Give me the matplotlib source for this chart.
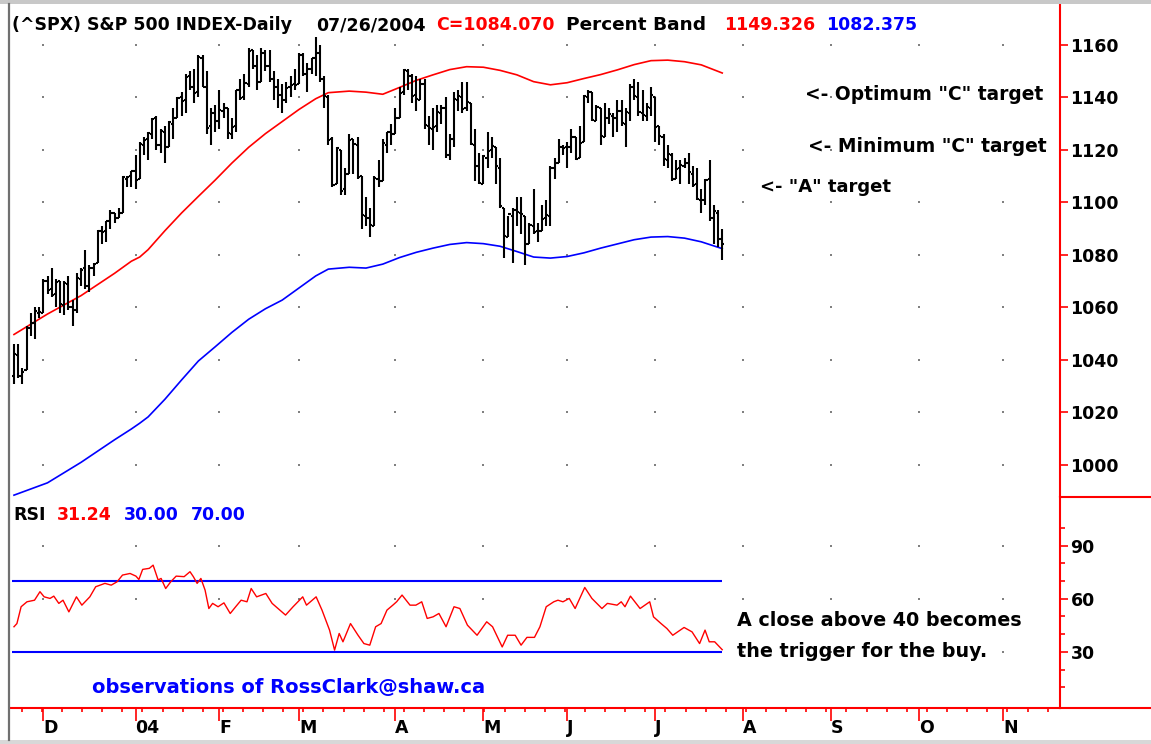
import numpy as np
import matplotlib
matplotlib.use("Agg")
import matplotlib.pyplot as plt
from matplotlib.lines import Line2D
from matplotlib.patches import Rectangle

W, H = 1151, 744

# daily bars 11/19/2003 .. 07/26/2004 (trading-day index = position)
opens = [1034, 1042, 1034, 1036, 1052, 1054, 1058,
         1058, 1070, 1067, 1065, 1070, 1061, 1069, 1060, 1059, 1071, 1075, 1068, 1075, 1077, 1089, 1089, 1093, 1096, 1094, 1096, 1109, 1110,
         1112, 1109, 1122, 1124, 1126, 1132, 1122, 1127, 1121, 1130, 1132, 1140, 1139, 1148, 1144, 1142, 1155, 1144, 1129, 1134,
         1131, 1135, 1136, 1126, 1129, 1143, 1140, 1145, 1158, 1152, 1146, 1157, 1152, 1147, 1144, 1141, 1139, 1144, 1145,
         1145, 1156, 1149, 1151, 1155, 1157, 1147, 1140, 1124, 1107, 1120, 1105, 1111, 1124, 1122, 1110, 1095, 1094, 1091, 1109, 1108, 1122, 1127,
         1126, 1132, 1142, 1150, 1148, 1141, 1139, 1145, 1129, 1128, 1129, 1134, 1136, 1118, 1124, 1139, 1140, 1136, 1138, 1122, 1114,
         1107, 1117, 1120, 1121, 1113, 1098, 1087, 1095, 1097, 1096, 1095, 1084, 1091, 1089, 1089, 1094, 1095, 1113, 1115, 1121,
         1121, 1121, 1125, 1117, 1123, 1140, 1142, 1131, 1136, 1125, 1132, 1133, 1132, 1135, 1130, 1134, 1144, 1140, 1134, 1133, 1136,
         1140, 1129, 1125, 1116, 1118, 1109, 1113, 1114, 1115, 1111, 1107, 1101, 1101, 1109, 1094, 1096, 1086]
highs = [1046, 1046, 1037, 1053, 1058, 1060, 1060,
         1071, 1072, 1075, 1071, 1070, 1070, 1072, 1063, 1073, 1075, 1082, 1076, 1077, 1089.5, 1091, 1093, 1097, 1096, 1098, 1110, 1110, 1112,
         1118, 1123, 1125, 1127, 1132, 1133, 1128, 1129, 1131, 1136, 1140, 1142, 1149, 1150, 1151, 1156, 1156, 1150, 1136, 1137,
         1143, 1138, 1136, 1132, 1143, 1147, 1149, 1159, 1158, 1156, 1159, 1158, 1158, 1150, 1147, 1145, 1146, 1148, 1151,
         1157, 1157, 1153, 1155, 1163, 1160, 1148, 1141, 1125, 1121, 1120, 1113, 1126, 1124, 1125, 1110, 1102, 1098, 1110, 1116, 1124, 1127, 1130,
         1136, 1144, 1151, 1151, 1149, 1148, 1147, 1147, 1133, 1136, 1137, 1137, 1140, 1126, 1142, 1143, 1146, 1146, 1138, 1128, 1119,
         1118, 1127, 1125, 1121, 1117, 1098, 1095, 1098, 1102, 1102, 1095, 1092, 1105, 1092, 1099, 1101, 1114, 1117, 1124, 1122,
         1123, 1128, 1125, 1129, 1141, 1143, 1142, 1137, 1136, 1138, 1136, 1134, 1139, 1139, 1136, 1145, 1147, 1146, 1143, 1138, 1144,
         1140, 1129, 1126, 1122, 1119, 1116, 1116, 1117, 1119, 1114, 1113, 1105, 1109, 1116, 1099, 1097, 1090]
lows = [1031, 1033, 1031, 1036, 1049, 1048, 1056,
        1058, 1065, 1064, 1060, 1058, 1057, 1059, 1053, 1058, 1068, 1067, 1066, 1072, 1077, 1084, 1085, 1090, 1092, 1094, 1096, 1106, 1106,
        1105, 1109, 1118, 1116, 1124, 1120, 1119, 1115, 1121, 1124, 1132, 1133, 1134, 1143, 1138, 1140, 1144, 1126, 1122, 1127,
        1128, 1132, 1124, 1124, 1127, 1139, 1139, 1144, 1151, 1143, 1146, 1150, 1146, 1139, 1136, 1134, 1138, 1140, 1143,
        1145, 1148, 1142, 1149, 1148, 1146, 1136, 1122, 1106, 1107, 1103, 1103, 1111, 1111, 1109, 1090, 1091, 1087, 1091, 1106, 1108, 1119, 1122,
        1126, 1132, 1141, 1143, 1138, 1135, 1139, 1128, 1122, 1120, 1127, 1130, 1117, 1116, 1121, 1135, 1134, 1135, 1122, 1108, 1107,
        1107, 1113, 1117, 1107, 1098, 1079, 1087, 1077, 1091, 1088, 1076, 1084, 1088, 1085, 1089, 1091, 1091, 1109, 1115, 1118,
        1113, 1119, 1116, 1117, 1123, 1138, 1131, 1131, 1122, 1125, 1130, 1125, 1127, 1129, 1121, 1131, 1139, 1133, 1131, 1131, 1133,
        1123, 1122, 1114, 1113, 1108, 1109, 1107, 1113, 1107, 1106, 1101, 1096, 1099, 1093, 1084, 1083, 1078]
closes = [1042.4, 1033.7, 1035.3, 1052.1, 1053.9, 1058.5, 1058.2,
          1070.1, 1066.6, 1064.7, 1069.7, 1061.5, 1069.3, 1060.2, 1059.1, 1071.2, 1074.1, 1068.0, 1075.1, 1076.5, 1089.2, 1088.7, 1092.9, 1096.0, 1094.0, 1095.9, 1109.5, 1109.6, 1111.9,
          1108.5, 1122.2, 1123.7, 1126.3, 1131.9, 1121.9, 1127.2, 1121.2, 1130.5, 1132.1, 1139.8, 1138.8, 1147.6, 1143.9, 1141.6, 1155.4, 1144.1, 1128.5, 1134.1, 1131.1,
          1135.3, 1136.0, 1126.5, 1128.6, 1142.8, 1139.8, 1145.5, 1157.8, 1152.1, 1145.8, 1157.0, 1151.8, 1147.1, 1144.1, 1141.0, 1139.1, 1143.7, 1144.9, 1144.9,
          1156.0, 1149.1, 1151.0, 1154.9, 1156.9, 1147.2, 1140.6, 1123.9, 1106.8, 1120.6, 1104.5, 1110.7, 1123.8, 1122.3, 1109.8, 1095.4, 1094.0, 1091.3, 1109.2, 1108.1, 1122.5, 1127.0, 1126.2,
          1132.2, 1141.8, 1150.6, 1148.2, 1140.5, 1139.3, 1145.2, 1129.4, 1128.2, 1128.8, 1134.6, 1135.8, 1118.2, 1124.1, 1139.3, 1140.6, 1135.5, 1138.1, 1122.4, 1113.9, 1107.3,
          1117.5, 1119.6, 1121.5, 1114.0, 1098.7, 1087.1, 1095.5, 1097.3, 1096.4, 1095.7, 1084.1, 1091.5, 1088.7, 1089.2, 1093.6, 1095.4, 1113.1, 1114.9, 1121.3, 1120.7,
          1121.2, 1125.0, 1116.6, 1122.5, 1140.4, 1142.2, 1131.3, 1136.5, 1125.3, 1132.0, 1133.6, 1132.1, 1135.0, 1130.3, 1134.4, 1144.1, 1140.7, 1134.4, 1133.4, 1136.2, 1140.8,
          1128.9, 1125.4, 1116.4, 1118.3, 1109.1, 1112.8, 1114.4, 1115.0, 1111.5, 1106.7, 1101.4, 1100.9, 1108.7, 1093.9, 1096.8, 1086.2, 1084.07]

# percent band (read every few bars)
band_idx = [0, 8, 16, 24, 28, 30, 32, 36, 40, 44, 48, 52, 56, 60, 64, 68, 72, 75, 80, 84, 88, 92, 96, 100, 104, 108,
            112, 116, 120, 124, 128, 132, 136, 140, 144, 148, 152, 156, 160, 164, 169]
upper_band = [1049.7, 1057.5, 1064.5, 1073.0, 1077.6, 1079.2, 1082.0, 1089.2, 1096.0, 1102.3, 1108.5, 1115.0,
              1121.0, 1126.2, 1130.8, 1135.4, 1139.5, 1141.8,
              1142.4, 1142.0, 1141.2, 1143.8, 1146.5, 1148.6, 1150.6, 1151.7, 1151.5, 1150.3, 1148.6,
              1146.0, 1144.8, 1145.6, 1147.2, 1148.7, 1150.5, 1152.5, 1154.0, 1154.2, 1153.6, 1152.4, 1149.3]
lower_band = [988.5, 993.2, 1001.0, 1009.6, 1013.7, 1015.9, 1018.3, 1025.0, 1032.4, 1039.6, 1045.0, 1050.5,
              1055.5, 1059.5, 1062.8, 1067.4, 1072.0, 1074.6,
              1075.3, 1075.0, 1076.5, 1079.0, 1081.0, 1082.6, 1084.0, 1084.7, 1084.3, 1083.3, 1081.3,
              1079.2, 1078.8, 1079.4, 1080.8, 1082.6, 1084.2, 1085.8, 1086.8, 1087.0, 1086.4, 1085.0, 1082.4]

# RSI
rsi_idx = [0, 0.7, 1.7, 3.1, 4.9, 6.2, 7.2, 8.6, 9.5, 10.7, 11.7, 13.1, 14.9, 16.2, 18.1, 19.5,
           21.7, 23.2, 24.6, 25.9, 27.7, 29.1, 29.8, 30.7, 32.3, 33.2, 34.4, 35.1, 36.2, 37.4, 38.7,
           40.6, 42.0, 42.8, 43.7, 44.6, 45.6, 46.5, 47.4, 48.7, 50.1, 51.6, 52.9, 54.2, 55.6, 56.6,
           57.9, 60.1, 61.6, 64.8, 66.6, 68.9, 69.8, 72.1, 73.5, 75.3, 76.5, 77.6, 78.5, 80.3, 82.1,
           83.5, 84.9, 86.3, 87.6, 89.0, 90.4, 91.3, 92.6, 94.5, 95.9, 97.3, 98.6, 100.0, 101.4, 103.1,
           105.0, 106.4, 108.2, 110.5, 112.8, 114.2, 116.5, 117.8, 119.6, 121.0, 122.4, 124.2, 125.5,
           127.0, 128.8, 129.8, 131.0, 132.5, 133.9, 136.2, 137.9, 140.3, 141.6, 143.9, 144.9, 145.8,
           147.1, 149.4, 151.7, 152.6, 154.4, 155.8, 157.2, 159.9, 161.8, 163.6, 164.9, 165.9, 167.2, 169]
rsi_vals = [44.2, 46.0, 55.5, 58.3, 59.2, 64.0, 61.1, 60.2, 61.5, 57.4, 59.2, 52.6, 61.1, 56.4, 61.1, 66.8,
            68.7, 67.7, 69.6, 73.4, 74.3, 72.8, 70.9, 76.6, 77.2, 79.0, 70.6, 71.5, 65.8, 69.6, 72.8,
            72.5, 75.3, 72.5, 68.7, 71.5, 64.9, 54.5, 57.4, 55.5, 57.7, 51.7, 55.5, 59.2, 58.3, 65.8,
            61.1, 63.0, 57.4, 50.8, 55.5, 61.1, 56.4, 61.1, 53.6, 42.3, 31.0, 40.4, 35.7, 46.0, 39.4,
            34.7, 33.8, 44.2, 46.0, 53.6, 56.4, 58.3, 62.1, 56.4, 56.4, 58.3, 48.9, 49.8, 51.7, 44.2,
            55.5, 54.5, 45.1, 39.4, 47.0, 44.2, 32.8, 39.4, 39.4, 33.8, 38.2, 38.2, 44.2,
            55.5, 58.3, 59.2, 58.3, 60.2, 54.5, 66.4, 60.2, 54.5, 57.4, 56.4, 58.3, 55.5,
            61.5, 54.5, 58.3, 49.8, 46.0, 43.2, 39.4, 43.8, 41.3, 34.7, 42.3, 35.7, 35.7, 31.24]
rsi_levels = [30, 70]

month_pos = [7, 29, 49, 68, 91, 112, 132, 153, 174, 195, 216, 236]
month_labels = ['D', '04', 'F', 'M', 'A', 'M', 'J', 'J', 'A', 'S', 'O', 'N']
price_ticks = [1000, 1020, 1040, 1060, 1080, 1100, 1120, 1140, 1160]
rsi_ticks = [30, 60, 90]
rsi_minor = [10, 20, 40, 50, 70, 80, 100]

FONT = 'DejaVu Sans'
FS = 12.5


def fx(px):
    return px / W


def fy(py):
    return 1 - py / H


fig = plt.figure(figsize=(W / 100, H / 100), dpi=100)
fig.patch.set_facecolor('white')

# frame
fig.add_artist(Rectangle((0, fy(4)), 1, 4 / H, transform=fig.transFigure, color='#c8c8c8', lw=0))
fig.add_artist(Rectangle((0, 0), 1, 4 / H, transform=fig.transFigure, color='#d8d8d8', lw=0))
fig.add_artist(Line2D([fx(8.5), fx(8.5)], [fy(740), fy(4)], transform=fig.transFigure, color='#707070', lw=1.6))

ax = fig.add_axes([fx(10), fy(497), fx(1060) - fx(10), fy(5) - fy(497)])
ax2 = fig.add_axes([fx(10), fy(708), fx(1060) - fx(10), fy(497) - fy(708)])

idx = np.arange(len(closes))
xlim = (-0.95, 249.6)

for a in (ax, ax2):
    a.set_xlim(*xlim)
    for s in ('left', 'top', 'bottom'):
        a.spines[s].set_visible(False)
    a.spines['right'].set_color('red')
    a.spines['right'].set_linewidth(1.5)
    a.yaxis.tick_right()
    a.tick_params(axis='y', which='major', colors='red', labelcolor='black', length=6, width=1.2,
                  direction='out', pad=1.5, labelsize=FS)
    a.tick_params(axis='y', which='minor', colors='red', length=3.5, width=1.2, direction='out')

# grid dots
gx, gy = np.meshgrid(month_pos, price_ticks)
ax.plot(gx.ravel(), gy.ravel(), ls='none', marker='s', ms=1.5, mew=0, color='#808080', zorder=1)
gx2, gy2 = np.meshgrid(month_pos, rsi_ticks)
ax2.plot(gx2.ravel(), gy2.ravel(), ls='none', marker='s', ms=1.5, mew=0, color='#808080', zorder=1)

# price bars
ax.vlines(idx, lows, highs, color='black', lw=1.5, zorder=3)
ax.hlines(opens, idx - 0.5, idx, color='black', lw=1.5, zorder=3)
ax.hlines(closes, idx, idx + 0.5, color='black', lw=1.5, zorder=3)

# bands
ax.plot(band_idx, upper_band, color='#ff0000', lw=1.2, zorder=2)
ax.plot(band_idx, lower_band, color='#0000ff', lw=1.2, zorder=2)

ax.set_ylim(987.8, 1175.2)
ax.set_xticks([])
ax.set_yticks(price_ticks)
for lab in ax.get_yticklabels():
    lab.set_fontweight('bold')
    lab.set_fontfamily(FONT)

# RSI panel
ax2.hlines(rsi_levels, -0.5, 169, color='#0000ff', lw=1.5, zorder=2)
ax2.plot(rsi_idx, rsi_vals, color='#ff0000', lw=1.0, zorder=3)
ax2.set_ylim(-1.7, 117.5)
ax2.set_yticks(rsi_ticks)
ax2.set_yticks(rsi_minor, minor=True)
for lab in ax2.get_yticklabels():
    lab.set_fontweight('bold')
    lab.set_fontfamily(FONT)

ax2.spines['bottom'].set_visible(True)
ax2.spines['bottom'].set_color('red')
ax2.spines['bottom'].set_linewidth(1.5)
ax2.set_xticks(month_pos)
ax2.set_xticklabels(month_labels)
ax2.set_xticks(np.arange(1.85, 247, 4.8), minor=True)
ax2.tick_params(axis='x', which='major', colors='red', labelcolor='black', length=9, width=1.2,
                direction='out', pad=-1, labelsize=FS)
ax2.tick_params(axis='x', which='minor', colors='red', length=3, width=1.2, direction='out')
for lab in ax2.get_xticklabels():
    lab.set_fontweight('bold')
    lab.set_fontfamily(FONT)
    lab.set_horizontalalignment('left')

# red lines right of the plot
fig.add_artist(Line2D([fx(1060), 1], [fy(497), fy(497)], transform=fig.transFigure, color='red', lw=1.5))
fig.add_artist(Line2D([fx(1060), 1], [fy(708), fy(708)], transform=fig.transFigure, color='red', lw=1.5))


def txt(px, py, s, color='black', size=FS):
    fig.text(fx(px), fy(py), s, color=color, fontsize=size, fontweight='bold', fontfamily=FONT,
             ha='left', va='baseline')


# header
txt(12, 30, '(^SPX) S&P 500 INDEX-Daily')
txt(316, 30, '07/26/2004')
txt(436, 30, 'C=1084.070', color='#ff0000')
txt(566, 30, 'Percent Band', size=13.3)
txt(724, 30, '1149.326', color='#ff0000')
txt(826, 30, '1082.375', color='#0000ff')

# targets
txt(805, 100, '<- Optimum "C" target', size=13.4)
txt(808, 152, '<- Minimum "C" target', size=13.4)
txt(760, 192, '<- "A" target', size=13.0)

# RSI header
txt(13, 520, 'RSI')
txt(57, 520, '31.24', color='#ff0000')
txt(124, 520, '30.00', color='#0000ff')
txt(191, 520, '70.00', color='#0000ff')

txt(737, 626, 'A close above 40 becomes', size=13.8)
txt(737, 657, 'the trigger for the buy.', size=13.8)
txt(92, 693, 'observations of RossClark@shaw.ca', color='#0000ff', size=14.0)

fig.savefig('out.png', dpi=100, facecolor='white')
